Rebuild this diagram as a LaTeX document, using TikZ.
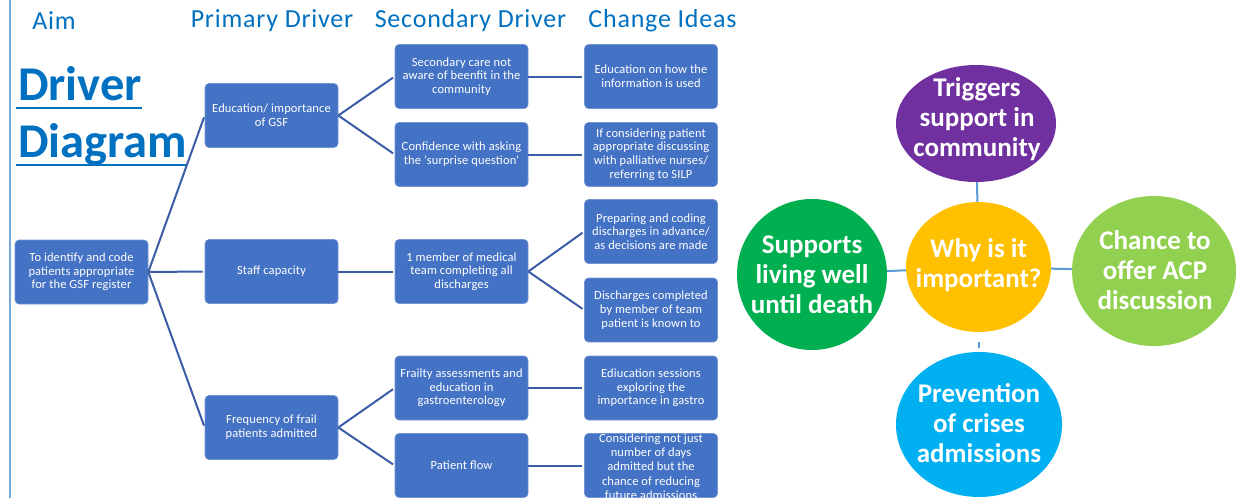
\documentclass[tikz,border=0pt]{standalone}
\usepackage{fontspec}
\setmainfont{Carlito}
\usetikzlibrary{shapes.geometric}
\definecolor{boxblue}{HTML}{4472C4}
\definecolor{linkblue}{HTML}{3B5CA6}
\definecolor{headblue}{HTML}{0070C0}
\definecolor{spokeblue}{HTML}{5B9BD5}
\definecolor{trigpurple}{HTML}{7030A0}
\definecolor{whyyellow}{HTML}{FFC000}
\definecolor{livegreen}{HTML}{00B050}
\definecolor{acpgreen}{HTML}{92D050}
\definecolor{crisisblue}{HTML}{00B0F0}

\begin{document}
\begin{tikzpicture}
  [x=1pt,y=-1pt,
   box/.style={draw=boxblue!75!white,line width=.6pt,fill=boxblue,rounded corners=4pt,
     minimum width=133pt,minimum height=64pt,inner sep=1pt,text=white,align=center,
     font=\fontsize{12.5}{13.7}\selectfont\addfontfeature{LetterSpace=1}},
   boxtext/.style={text=white,align=center,inner sep=0pt,
     font=\fontsize{12.5}{14.2}\selectfont\addfontfeature{LetterSpace=1}},
   head/.style={text=headblue,inner sep=0pt,
     font=\fontsize{26}{30}\selectfont\addfontfeature{LetterSpace=3}},
   title/.style={text=headblue,inner sep=0pt,anchor=base west,font=\fontsize{48.5}{52}\selectfont\bfseries},
   bubble/.style={ellipse,inner sep=0pt},
   bubbletext/.style={text=white,align=center,inner sep=0pt,font=\fontsize{27}{30}\selectfont\bfseries},
   link/.style={draw=linkblue,line width=2pt,shorten >=2pt},
   spoke/.style={draw=spokeblue,line width=2pt}]
  \useasboundingbox (0,0) rectangle (1236,498);
  \clip (0,0) rectangle (1236,498);
  \draw[spokeblue!85!white,line width=2.5pt] (10,0) -- (10,498);

  \node[head] (hAim) at (54,21) {Aim};
  \node[head] (hPrim) at (272,21) {Primary Driver};
  \node[head] (hSec) at (470.5,21) {Secondary Driver};
  \node[head] (hChange) at (662.5,21) {Change Ideas};

  \node[title] (t1) at (18,100) {Driver};
  \node[title] (t2) at (18,157) {Diagram};
  \draw[headblue,line width=2.5pt] (16,108) -- (t1.base east |- 0,108);
  \draw[headblue,line width=2.5pt] (16,165) -- (t2.base east |- 0,165);

  \node[box] (aim) at (81.5,272) {To identify and code\\patients appropriate\\for the GSF register};

  \node[box] (edu) at (271.5,115.5) {Education/ importance\\of GSF};
  \node[box] (staff) at (271.5,271.5) {Staff capacity};
  \node[box] (frail) at (271.5,427.5) {Frequency of frail\\patients admitted};

  \node[box] (unaware) at (461.5,76.5) {Secondary care not\\aware of beenfit in the\\community};
  \node[box] (confidence) at (461.5,154.5) {Confidence with asking\\the \textquotesingle surprise question\textquotesingle};
  \node[box] (onemember) at (461.5,271.5) {1 member of medical\\team completing all\\discharges};
  \node[box] (frailty) at (461.5,388) {Frailty assessments and\\education in\\gastroenterology};
  \node[box] (flow) at (461.5,465.5) {Patient flow};

  \node[box] (infoused) at (651,76.5) {Education on how the\\information is used};
  \node[box] (palliative) at (651,154.5) {If considering patient\\appropriate discussing\\with palliative nurses/\\referring to SILP};
  \node[box] (preparing) at (651,231.5) {Preparing and coding\\discharges in advance/\\as decisions are made};
  \node[box] (knownto) at (651,310) {Discharges completed\\by member of team\\patient is known to};
  \node[box] (sessions) at (651,388) {Ediucation sessions\\exploring the\\importance in gastro};
  \node[box] (considering) at (651,465.5) {};
  \node[boxtext] (consideringtxt) at (651,466.5) {Considering not just\\number of days\\admitted but the\\chance of reducing\\future admissions};

  \foreach \from/\to in {aim/edu,aim/staff,aim/frail,edu/unaware,edu/confidence,
      staff/onemember,frail/frailty,frail/flow,unaware/infoused,confidence/palliative,
      onemember/preparing,onemember/knownto,frailty/sessions,flow/considering}
    \draw[link] (\from.east) -- (\to.west);

  \node[bubble,fill=trigpurple,minimum width=160pt,minimum height=117pt] (trig) at (976,123.5) {};
  \node[bubble,fill=whyyellow,minimum width=145pt,minimum height=130pt] (why) at (978.5,267) {};
  \node[bubble,fill=livegreen,minimum width=150pt,minimum height=151pt] (live) at (812,274.5) {};
  \node[bubble,fill=acpgreen,minimum width=164pt,minimum height=150pt] (acp) at (1154,271) {};
  \node[bubble,fill=crisisblue,minimum width=166pt,minimum height=145pt] (crisis) at (979,424.5) {};

  \node[bubbletext] (trigtxt) at (977,119) {Triggers\\support in\\community};
  \node[bubbletext] (whytxt) at (978.5,265) {Why is it\\important?};
  \node[bubbletext] (livetxt) at (812,275) {Supports\\living well\\until death};
  \node[bubbletext] (acptxt) at (1155,270) {Chance to\\offer ACP\\discussion};
  \node[bubbletext] (crisistxt) at (979,423) {Prevention\\of crises\\admissions};

  \foreach \to in {trig,live,acp}
    \draw[spoke] (why) -- (\to);
  \draw[spoke,shorten <=10pt,shorten >=4pt] (why.south) -- (crisis.north);
\end{tikzpicture}
\end{document}
